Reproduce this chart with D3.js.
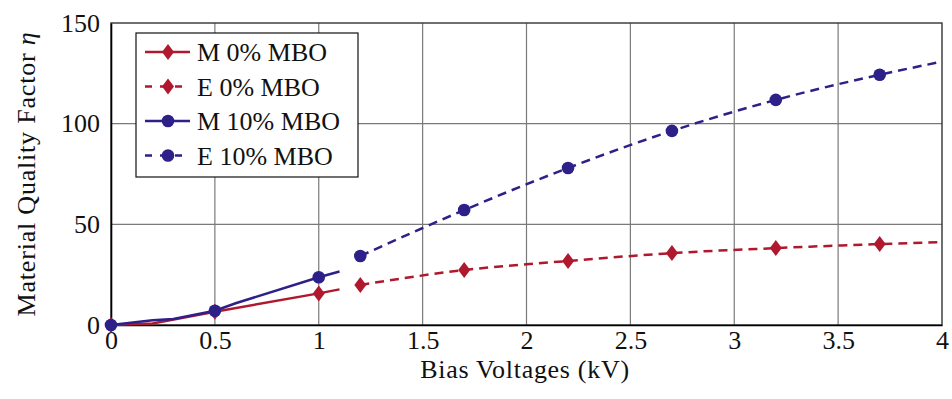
<!DOCTYPE html>
<html>
<head>
<meta charset="utf-8">
<script src="https://cdn.jsdelivr.net/npm/d3@7"></script>
<style>
  body { margin: 0; background: #fff; }
  svg text { font-family: "Liberation Serif", "DejaVu Serif", serif; fill: #111; }
</style>
</head>
<body>
<svg id="chart" width="952" height="399"></svg>
<script>
// measured (M) series, solid lines, marks only where flagged
var mRedX = [0, 0.2, 0.5, 1.0, 1.1];
var mRedY = [0, 0.8, 6.6, 15.7, 17.7];
var mRedMark = [true, false, true, true, false];

var mBlueX = [0, 0.2, 0.3, 0.5, 0.6, 1.0, 1.1];
var mBlueY = [0, 2.4, 3.0, 7.1, 10.8, 23.7, 26.6];
var mBlueMark = [true, false, false, true, false, true, false];

// estimated (E) series, dashed lines
var eX = [1.2, 1.7, 2.2, 2.7, 3.2, 3.7, 4.0];
var eRedY = [19.9, 27.3, 31.8, 35.7, 38.2, 40.2, 41.2];
var eBlueY = [34.3, 57.1, 78.0, 96.4, 111.8, 124.3, 130.8];
var eMark = [true, true, true, true, true, true, false];

var xTicks = [0, 0.5, 1, 1.5, 2, 2.5, 3, 3.5, 4];
var yTicks = [0, 50, 100, 150];
var legendLabels = ["M 0% MBO", "E 0% MBO", "M 10% MBO", "E 10% MBO"];

var red = "#b0182e", blue = "#2d2088";

function zip(xs, ys, marks) {
    return xs.map(function(x, i) { return { x: x, y: ys[i], mark: marks[i] }; });
}

var svg = d3.select("#chart"),
    pLeft = 111, pRight = 942, pTop = 23, pBottom = 325;

var x = d3.scaleLinear().domain([0, 4]).range([pLeft, pRight]),
    y = d3.scaleLinear().domain([0, 150]).range([pBottom, pTop]);

// title, mostly cut off at the top
svg.append("text")
   .attr("x", 506)
   .attr("y", -7)
   .attr("text-anchor", "middle")
   .attr("font-size", "26px")
   .text("(a)");

// grid
var grid = svg.append("g");
grid.selectAll(".gx")
    .data(xTicks.slice(1, -1))
    .enter().append("line")
    .attr("x1", function(d) { return x(d); })
    .attr("x2", function(d) { return x(d); })
    .attr("y1", pTop).attr("y2", pBottom)
    .attr("stroke", "#7a7a7a").attr("stroke-width", 1.2);
grid.selectAll(".gy")
    .data(yTicks.slice(1, -1))
    .enter().append("line")
    .attr("y1", function(d) { return y(d); })
    .attr("y2", function(d) { return y(d); })
    .attr("x1", pLeft).attr("x2", pRight)
    .attr("stroke", "#7a7a7a").attr("stroke-width", 1.2);

// frame
svg.append("rect")
   .attr("x", pLeft).attr("y", pTop)
   .attr("width", pRight - pLeft).attr("height", pBottom - pTop)
   .attr("fill", "none").attr("stroke", "#333").attr("stroke-width", 1.4);

// axes
var xAxis = svg.append("g")
   .attr("transform", "translate(0," + pBottom + ")")
   .call(d3.axisBottom(x).tickValues(xTicks).tickSize(0).tickPadding(5.5)
         .tickFormat(function(d) { return d3.format("")(d); }));
xAxis.select(".domain").attr("stroke", "#000").attr("stroke-width", 1.6);

var yAxis = svg.append("g")
   .attr("transform", "translate(" + pLeft + ",0)")
   .call(d3.axisLeft(y).tickValues(yTicks).tickSize(0).tickPadding(11));
yAxis.select(".domain").attr("stroke", "#000").attr("stroke-width", 1.6);

svg.selectAll(".tick text")
   .attr("font-size", "26px")
   .attr("fill", "#111")
   .style("font-family", "Liberation Serif, serif");

svg.append("text")
   .attr("x", 525)
   .attr("y", 378)
   .attr("text-anchor", "middle")
   .attr("font-size", "26px")
   .attr("letter-spacing", "0.7px")
   .text("Bias Voltages (kV)");

var yl = svg.append("text")
   .attr("transform", "translate(35," + ((pTop + pBottom) / 2) + ") rotate(-90)")
   .attr("text-anchor", "middle")
   .attr("font-size", "26px")
   .attr("letter-spacing", "0.8px");
yl.append("tspan").text("Material Quality Factor ");
yl.append("tspan").attr("font-style", "italic").text("η");

var line = d3.line()
    .x(function(d) { return x(d.x); })
    .y(function(d) { return y(d.y); });
var smooth = d3.line()
    .curve(d3.curveMonotoneX)
    .x(function(d) { return x(d.x); })
    .y(function(d) { return y(d.y); });

var diamond = "M0,-8L6,0L0,8L-6,0Z";

var series = [
    { data: zip(mRedX, mRedY, mRedMark), color: red, dash: null, shape: "diamond", gen: line },
    { data: zip(eX, eRedY, eMark), color: red, dash: "9,6", shape: "diamond", gen: smooth },
    { data: zip(mBlueX, mBlueY, mBlueMark), color: blue, dash: null, shape: "circle", gen: line },
    { data: zip(eX, eBlueY, eMark), color: blue, dash: "9,6", shape: "circle", gen: smooth }
];

var plot = svg.append("g");
series.forEach(function(s) {
    plot.append("path")
        .datum(s.data)
        .attr("d", s.gen)
        .attr("fill", "none")
        .attr("stroke", s.color)
        .attr("stroke-width", 2.5)
        .attr("stroke-dasharray", s.dash);
});
series.forEach(function(s) {
    var pts = s.data.filter(function(d) { return d.mark; });
    if (s.shape === "circle") {
        plot.selectAll(null).data(pts).enter().append("circle")
            .attr("cx", function(d) { return x(d.x); })
            .attr("cy", function(d) { return y(d.y); })
            .attr("r", 6.3)
            .attr("fill", s.color);
    } else {
        plot.selectAll(null).data(pts).enter().append("path")
            .attr("d", diamond)
            .attr("transform", function(d) { return "translate(" + x(d.x) + "," + y(d.y) + ")"; })
            .attr("fill", s.color);
    }
});

// legend
var lg = svg.append("g").attr("transform", "translate(136,33)");
lg.append("rect")
  .attr("width", 222).attr("height", 144)
  .attr("fill", "#fff").attr("stroke", "#111").attr("stroke-width", 1.2);
var rows = lg.selectAll(".row")
  .data(series)
  .enter().append("g")
  .attr("transform", function(d, i) { return "translate(0," + (19 + i * 34.5) + ")"; });
rows.append("line")
  .attr("x1", 9).attr("x2", 54).attr("y1", 0).attr("y2", 0)
  .attr("stroke", function(d) { return d.color; })
  .attr("stroke-width", 2.5)
  .attr("stroke-dasharray", function(d) { return d.dash ? "7,8" : null; });
rows.each(function(d) {
    var r = d3.select(this);
    if (d.shape === "circle") {
        r.append("circle").attr("cx", 32).attr("r", 6.3).attr("fill", d.color);
    } else {
        r.append("path").attr("d", diamond).attr("transform", "translate(32,0)").attr("fill", d.color);
    }
});
rows.append("text")
  .attr("x", 61).attr("y", 9)
  .attr("font-size", "26px")
  .text(function(d, i) { return legendLabels[i]; });
</script>
</body>
</html>
